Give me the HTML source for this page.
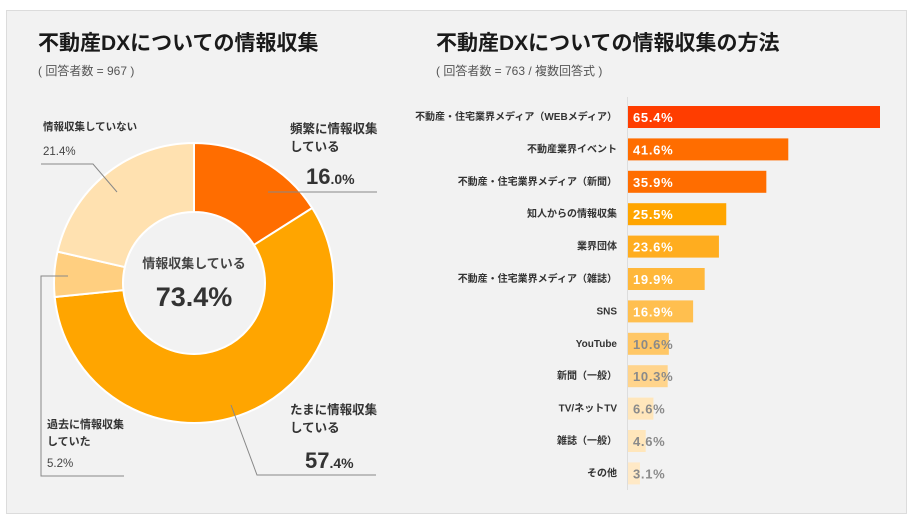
<!DOCTYPE html>
<html><head><meta charset="utf-8">
<style>
html,body{margin:0;padding:0;background:#fff;}
body{width:912px;height:517px;overflow:hidden;font-family:"Liberation Sans","Noto Sans CJK JP",sans-serif;}
svg{display:block;}
</style></head>
<body>
<svg id="chart" width="912" height="517" xmlns="http://www.w3.org/2000/svg" font-family="'Liberation Sans','Noto Sans CJK JP',sans-serif">
<rect x="6.5" y="10.5" width="900" height="503" fill="#f2f2f2" stroke="#dcdcdc"/>
<text x="38" y="50" font-size="21" font-weight="bold" fill="#1a1a1a">不動産DXについての情報収集</text>
<text x="38" y="75" font-size="12" fill="#555">( 回答者数 = 967 )</text>
<text x="436" y="50" font-size="21" font-weight="bold" fill="#1a1a1a">不動産DXについての情報収集の方法</text>
<text x="436" y="75" font-size="12" fill="#555">( 回答者数 = 763 / 複数回答式 )</text>
<g id="donut"></g>
<g id="donut-labels">
<polyline points="268,192 377,192" fill="none" stroke="#888" stroke-width="1"/>
<polyline points="41,164 93,164 117,192" fill="none" stroke="#888" stroke-width="1"/>
<polyline points="68,276 41,276 41,476 124,476" fill="none" stroke="#888" stroke-width="1"/>
<polyline points="231,405 257,475 376,475" fill="none" stroke="#888" stroke-width="1"/>
<text x="290" y="133" font-size="12.5" font-weight="bold" fill="#333">頻繁に情報収集</text>
<text x="290" y="151" font-size="12.5" font-weight="bold" fill="#333">している</text>
<text x="306" y="184" font-size="22" font-weight="bold" fill="#333">16<tspan font-size="14">.0%</tspan></text>
<text x="43" y="130" font-size="10.5" font-weight="bold" fill="#333">情報収集していない</text>
<text x="43" y="155" font-size="11.5" fill="#444">21.4%</text>
<text x="47" y="428" font-size="11" font-weight="bold" fill="#333">過去に情報収集</text>
<text x="47" y="445" font-size="11" font-weight="bold" fill="#333">していた</text>
<text x="47" y="467" font-size="11.5" fill="#444">5.2%</text>
<text x="290" y="414" font-size="12.5" font-weight="bold" fill="#333">たまに情報収集</text>
<text x="290" y="432" font-size="12.5" font-weight="bold" fill="#333">している</text>
<text x="305" y="468" font-size="22" font-weight="bold" fill="#333">57<tspan font-size="14">.4%</tspan></text>
<text x="194" y="268" font-size="13" font-weight="bold" fill="#444" text-anchor="middle">情報収集している</text>
<text x="194" y="306" font-size="27" font-weight="bold" fill="#333" text-anchor="middle">73.4%</text>
</g>
<line x1="627.5" y1="97" x2="627.5" y2="490" stroke="#ddd"/>
<g id="bars"></g>
</svg>
<script>
const donutCategories = ["頻繁に情報収集している","たまに情報収集している","過去に情報収集していた","情報収集していない"];
const donutValues = [16.0, 57.4, 5.2, 21.4];
const donutColors = ["#ff6d00","#ffa500","#ffcf80","#ffe1b0"];

const barCategories = ["不動産・住宅業界メディア（WEBメディア）","不動産業界イベント","不動産・住宅業界メディア（新聞）","知人からの情報収集","業界団体","不動産・住宅業界メディア（雑誌）","SNS","YouTube","新聞（一般）","TV/ネットTV","雑誌（一般）","その他"];
const barValues = [65.4, 41.6, 35.9, 25.5, 23.6, 19.9, 16.9, 10.6, 10.3, 6.6, 4.6, 3.1];
const barColors = ["#ff3d00","#ff6d00","#ff6d00","#ffa500","#ffad1f","#ffb73a","#ffbf4f","#ffc766","#ffd48c","#ffe6bb","#ffe6bb","#ffe9c6"];

const NS = "http://www.w3.org/2000/svg";
const cx = 194, cy = 283, R = 140, r = 71;
const total = donutValues.reduce((a,b)=>a+b,0);
function pt(rad, frac){ const a = frac*2*Math.PI - Math.PI/2; return [cx+rad*Math.cos(a), cy+rad*Math.sin(a)]; }
let acc = 0;
const dg = document.getElementById('donut');
donutValues.forEach((v,i)=>{
  const f0 = acc/total, f1 = (acc+v)/total; acc += v;
  const large = (f1-f0) > 0.5 ? 1 : 0;
  const [x0,y0]=pt(R,f0),[x1,y1]=pt(R,f1),[x2,y2]=pt(r,f1),[x3,y3]=pt(r,f0);
  const p = document.createElementNS(NS,'path');
  p.setAttribute('d',`M${x0},${y0} A${R},${R} 0 ${large} 1 ${x1},${y1} L${x2},${y2} A${r},${r} 0 ${large} 0 ${x3},${y3} Z`);
  p.setAttribute('fill',donutColors[i]);
  p.setAttribute('stroke','#fff');
  p.setAttribute('stroke-width','2');
  
  
  dg.appendChild(p);
});
const x0 = 628, scale = 252/65.4, y0 = 117, step = 32.4, bh = 22;
const bg = document.getElementById('bars');
barValues.forEach((v,i)=>{
  const yc = y0 + i*step;
  const rect = document.createElementNS(NS,'rect');
  rect.setAttribute('x',x0); rect.setAttribute('y',yc-bh/2);
  rect.setAttribute('width',v*scale); rect.setAttribute('height',bh);
  rect.setAttribute('fill',barColors[i]);
  
  
  bg.appendChild(rect);
  const lab = document.createElementNS(NS,'text');
  lab.setAttribute('x',617); lab.setAttribute('y',yc+3);
  lab.setAttribute('font-size','10'); lab.setAttribute('font-weight','bold');
  lab.setAttribute('fill','#333'); lab.setAttribute('text-anchor','end');
  lab.textContent = barCategories[i];
  
  
  bg.appendChild(lab);
  const val = document.createElementNS(NS,'text');
  val.setAttribute('x',633); val.setAttribute('y',yc+5);
  val.setAttribute('font-size','13'); val.setAttribute('font-weight','bold');
  val.setAttribute('letter-spacing','0.7');
  val.setAttribute('fill', i<7 ? '#fff' : '#8a8a8a');
  val.textContent = v.toFixed(1)+'%';
  
  
  bg.appendChild(val);
});
</script>
</body></html>
